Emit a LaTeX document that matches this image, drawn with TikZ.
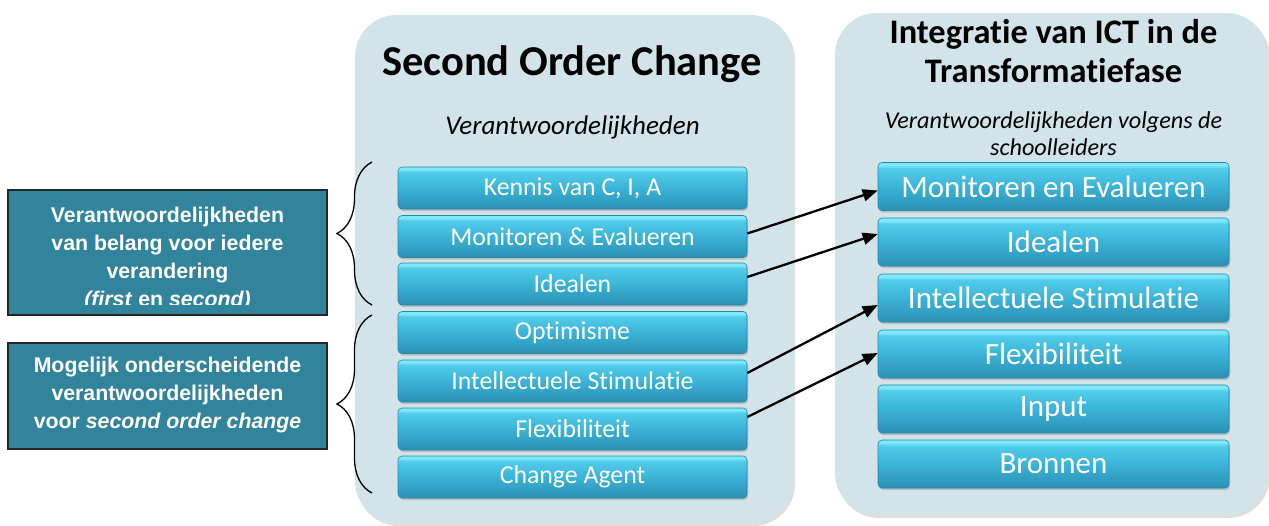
\documentclass[tikz,border=0pt]{standalone}
\usepackage{fontspec}
\setmainfont{Carlito}[Ligatures={NoCommon}]
\newfontfamily\arialf{Liberation Sans}
\usetikzlibrary{decorations.pathreplacing,arrows.meta,shadows}
\definecolor{panelbg}{HTML}{D2E3EA}
\definecolor{darkteal}{HTML}{31849B}
\definecolor{barHi}{HTML}{7FE8FA}
\definecolor{barTop}{HTML}{52CCEA}
\definecolor{barMid}{HTML}{3BB3D7}
\definecolor{barBot}{HTML}{2B90B3}
\definecolor{barEdge}{HTML}{2A86A2}
\pgfdeclareverticalshading{barshade}{100bp}{color(0bp)=(barBot); color(25bp)=(barBot); color(50bp)=(barMid); color(69bp)=(barTop); color(72bp)=(barHi); color(75bp)=(barHi); color(100bp)=(barHi)}
\tikzset{
  panel/.style={fill=panelbg, rounded corners=42pt, draw=none,
    drop shadow={opacity=0.25, shadow xshift=2pt, shadow yshift=-3pt}},
  barbase/.style={shading=barshade, draw=barEdge, line width=0.6pt, rounded corners=4pt,
    text=white, inner sep=0pt,
    drop shadow={opacity=0.35, shadow xshift=1pt, shadow yshift=-2pt}},
  lbar/.style={barbase, minimum width=349pt, minimum height=42pt, font=\fontsize{25.8}{28}\selectfont},
  rbar/.style={barbase, minimum width=351pt, minimum height=48pt, font=\fontsize{31}{34}\selectfont},
  darkbox/.style={fill=darkteal, draw=black!85, line width=1.6pt},
  darktext/.style={text=white, align=center, font=\arialf\bfseries\fontsize{21.3}{28}\selectfont},
  bracestyle/.style={decorate, decoration={brace, amplitude=35pt}, line width=1.3pt},
  conn/.style={-{Triangle[length=15pt,width=12pt]}, line width=2.3pt, black},
}
\begin{document}
\begin{tikzpicture}[x=1pt, y=-1pt]
\useasboundingbox (0,0) rectangle (1269,525);
\fill[white] (0,0) rectangle (1269,525);
% panels
\path[panel] (355,15) rectangle (793,523);
\path[panel] (835,13) rectangle (1268,515);
% titles
\node[anchor=base, font=\bfseries\fontsize{42.5}{44}\selectfont] (t1) at (572,75) {Second Order Change};
\node[anchor=base, font=\itshape\fontsize{27}{30}\selectfont] (s1) at (572.5,134) {Verantwoordelijkheden};
\node[anchor=base, font=\bfseries\fontsize{34.4}{38}\selectfont] (t2a) at (1053.5,43) {Integratie van ICT in de};
\node[anchor=base, font=\bfseries\fontsize{34.4}{38}\selectfont] (t2b) at (1053.5,82) {Transformatiefase};
\node[anchor=base, font=\itshape\fontsize{24.2}{27}\selectfont] (s2a) at (1053.5,128) {Verantwoordelijkheden volgens de};
\node[anchor=base, font=\itshape\fontsize{24.2}{27}\selectfont] (s2b) at (1053.5,155) {schoolleiders};
% left bars
\node[lbar] (lk)  at (572.5,188)   {Kennis van C, I, A};
\node[lbar] (lm)  at (572.5,236.5) {Monitoren \& Evalueren};
\node[lbar] (li)  at (572.5,284)   {Idealen};
\node[lbar] (lo)  at (572.5,332.5) {Optimisme};
\node[lbar] (lis) at (572.5,381)   {Intellectuele Stimulatie};
\node[lbar] (lf)  at (572.5,429)   {Flexibiliteit};
\node[lbar] (lc)  at (572.5,477)   {Change Agent};
% right bars
\node[rbar] (rm)  at (1053.5,186.5) {Monitoren en Evalueren};
\node[rbar] (ri)  at (1053.5,242)   {Idealen};
\node[rbar] (ris) at (1053.5,298)   {Intellectuele Stimulatie};
\node[rbar] (rf)  at (1053.5,354)   {Flexibiliteit};
\node[rbar] (rin) at (1053.5,409)   {Input};
\node[rbar] (rb)  at (1053.5,464)   {Bronnen};
% dark boxes
\node[darkbox, minimum width=319pt, minimum height=125pt, inner sep=0pt] (d1) at (167.5,252.5) {};
\begin{scope}
\clip (8,191) rectangle (327,304.5);
\node[darktext] (d1t) at (167.5,258.5) {Verantwoordelijkheden\\van belang voor iedere\\verandering\\\textit{(first} en \textit{second)}};
\end{scope}
\node[darkbox, minimum width=319pt, minimum height=106pt, inner sep=0pt] (d2) at (167.5,396) {};
\node[darktext] (d2t) at (167.5,395) {Mogelijk onderscheidende\\verantwoordelijkheden\\voor \textit{second order change}};
% braces
\draw[bracestyle] (372,305) -- (372,162);
\draw[bracestyle] (372,493) -- (372,315);
% connectors
\draw[conn] ([yshift=3pt]lm.east) -- ([yshift=-4pt]rm.west);
\draw[conn] ([yshift=7pt]li.east) -- ([yshift=8pt]ri.west);
\draw[conn] ([yshift=8pt]lis.east) -- ([yshift=-7pt]ris.west);
\draw[conn] ([yshift=12pt]lf.east) -- ([yshift=1pt]rf.west);
\end{tikzpicture}
\end{document}
